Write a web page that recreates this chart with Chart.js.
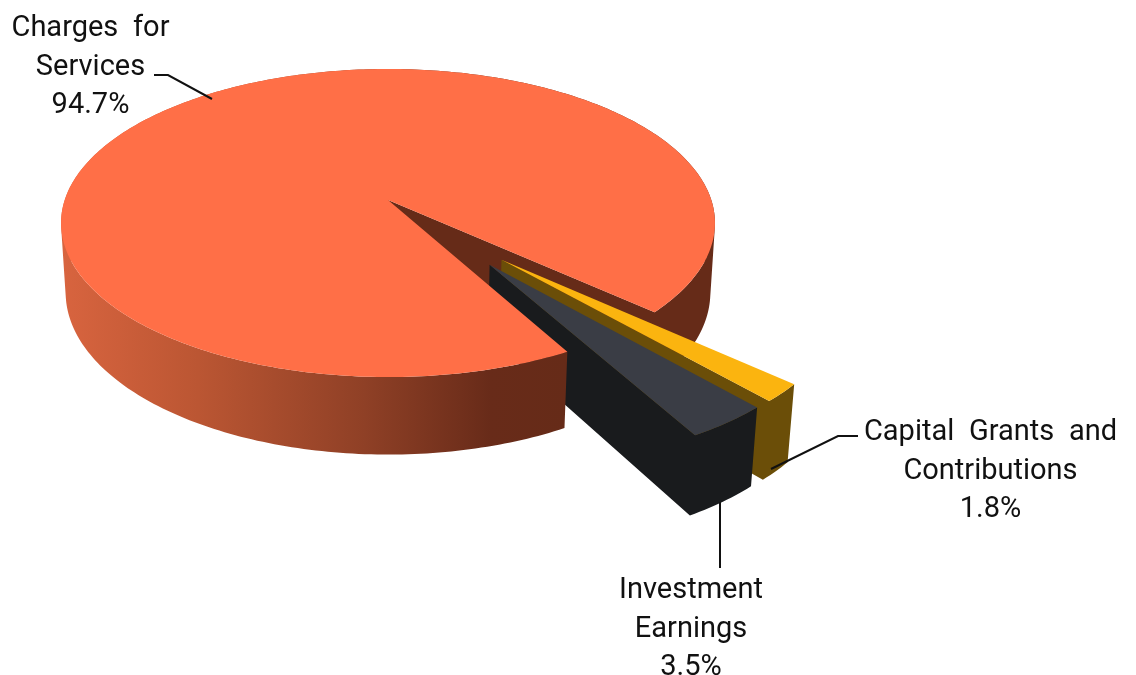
<!DOCTYPE html>
<html><head><meta charset="utf-8">
<style>html,body{margin:0;padding:0;background:#fff}canvas{display:block;filter:blur(0.45px)}</style>
<script src="https://cdn.jsdelivr.net/npm/chart.js@4"></script>
</head><body><canvas id="c" width="1136" height="675"></canvas>
<script>
const categories = ["Capital Grants and Contributions", "Investment Earnings", "Charges for Services"];
const shares = [1.8, 3.5, 94.7];
const topColors = ["#fbb40f", "#3a3d45", "#ff6f47"];
const wallColors = ["#6b4e08", "#191b1d", "#662b18"];
const explode = [0.5, 0.5, 0];
const explodeDir = [48.5, 53.8, 0];
const sliceRadius = [0.985, 0.985, 1];
const labelLines = [["Capital Grants and", "Contributions", "1.8%"], ["Investment", "Earnings", "3.5%"], ["Charges for", "Services", "94.7%"]];
const labelAnchor = [[990.5, 440], [691, 598], [90.5, 36]];
const leaders = [[[858,436],[838,436],[771,469]], [[720,502],[720,568]], [[154,75],[168,75],[212,99]]];

const view = {cx:388, cy:200, a:150.6, b:323.3, k:0.1494, c:69.5, m:0.014};
function project(u, v, h){
  const s = 1/(1 - view.k*v + view.m*h);
  return [view.cx + view.b*u*s, view.cy + (view.a*v + view.c*h)*s];
}
function addLoop(ctx, pts){
  pts.forEach((p,i)=> i ? ctx.lineTo(p[0],p[1]) : ctx.moveTo(p[0],p[1]));
  ctx.closePath();
}
function paint(ctx, pts, fill){
  ctx.beginPath();
  addLoop(ctx, pts);
  ctx.fillStyle = fill;
  ctx.fill();
}
function area(pts){
  let s=0;
  pts.forEach((p,i)=>{const q=pts[(i+1)%pts.length]; s+=p[0]*q[1]-q[0]*p[1];});
  return s;
}
const pie3d = {
  id:'pie3d',
  beforeDatasetDraw(chart){
    const ctx = chart.ctx, arcs = chart.getDatasetMeta(0).data;
    const geo = arcs.map((el,i)=>{
      const dir = explodeDir[i]*Math.PI/180, R = sliceRadius[i];
      const ox = Math.cos(dir)*explode[i], oy = Math.sin(dir)*explode[i];
      const n = Math.max(2, Math.ceil((el.endAngle-el.startAngle)*60));
      const rim = [], rimAngles = [];
      for(let j=0;j<=n;j++){
        const t = el.startAngle+(el.endAngle-el.startAngle)*j/n;
        rimAngles.push(t);
        rim.push([ox+R*Math.cos(t), oy+R*Math.sin(t)]);
      }
      return {ox,oy,rim,rimAngles};
    });
    // all strips of a wall share one path with the same winding, so no seams and no holes at the fold
    const band = (a, fill)=>{
      ctx.beginPath();
      for(let j=0;j<a.length-1;j++){
        const p=a[j], q=a[j+1];
        const quad=[project(p[0],p[1],0),project(q[0],q[1],0),project(q[0],q[1],1),project(p[0],p[1],1)];
        addLoop(ctx, area(quad)<0 ? quad.reverse() : quad);
      }
      ctx.fillStyle = fill;
      ctx.fill('nonzero');
    };
    const top = (g,i)=>{
      const pts=[project(g.ox,g.oy,0)];
      g.rim.forEach(q=>pts.push(project(q[0],q[1],0)));
      paint(ctx,pts,topColors[i]);
    };
    const grad = ctx.createLinearGradient(62,0,566,0);
    grad.addColorStop(0,"#d8643f"); grad.addColorStop(0.27,"#bb5633");
    grad.addColorStop(0.6,"#8f4026"); grad.addColorStop(0.85,"#682b19"); grad.addColorStop(1,"#662b18");
    const main = geo[2];
    const rimRight = main.rim.filter((q,j)=>main.rimAngles[j]>=Math.PI*2-0.02);
    const rimLeft = main.rim.filter((q,j)=>main.rimAngles[j]<=Math.PI*2);
    // far right of the big slice with its cut face, then the pulled-out slices, then the near wall and top
    band(rimRight.concat([[main.ox,main.oy]]), wallColors[2]);
    [0,1].forEach(i=>{
      band(geo[i].rim.concat([[geo[i].ox,geo[i].oy]]), wallColors[i]);
      top(geo[i],i);
    });
    band(rimLeft, grad);
    top(main,2);
    return false;
  },
  afterDatasetsDraw(chart){
    const ctx = chart.ctx;
    ctx.save();
    ctx.strokeStyle="#111"; ctx.lineWidth=2;
    leaders.forEach(l=>{ctx.beginPath();l.forEach((p,i)=>i?ctx.lineTo(p[0],p[1]):ctx.moveTo(p[0],p[1]));ctx.stroke();});
    ctx.fillStyle="#111"; ctx.font='29px Roboto'; ctx.textAlign='center'; ctx.textBaseline='alphabetic';
    ctx.wordSpacing='7.5px';
    labelLines.forEach((lines,i)=>lines.forEach((t,j)=>ctx.fillText(t,labelAnchor[i][0],labelAnchor[i][1]+j*38.5)));
    ctx.restore();
  }
};
new Chart(document.getElementById('c'),{
  type:'pie',
  data:{labels:categories,datasets:[{data:shares,backgroundColor:topColors,borderWidth:0}]},
  options:{responsive:false,animation:false,rotation:132.1,
    plugins:{legend:{display:false},tooltip:{enabled:false}}},
  plugins:[pie3d]
});
</script></body></html>
